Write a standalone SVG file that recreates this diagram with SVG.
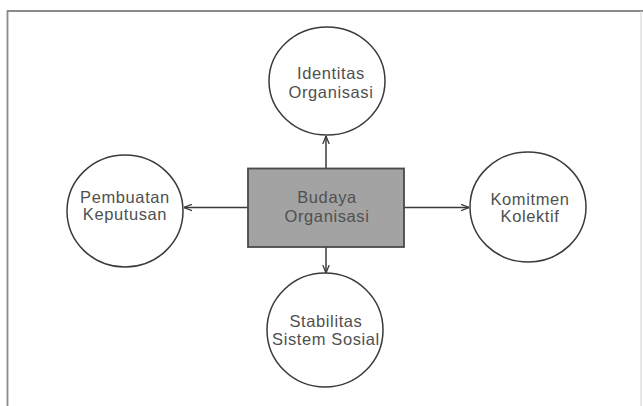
<svg xmlns="http://www.w3.org/2000/svg" width="643" height="406" viewBox="0 0 643 406">
<style>
.node{fill:#fff;stroke:#3a3a3a;stroke-width:1.5}
.box{fill:#a3a3a3;stroke:#4a4a4a;stroke-width:1.8}
.lbl{font-family:"Liberation Sans",Arial,sans-serif;font-size:16.5px;letter-spacing:0.6px;fill:#505050;text-anchor:middle}
.con{stroke:#3a3a3a;stroke-width:1.5;fill:none;marker-end:url(#ah)}
</style>
<defs>
<marker id="ah" viewBox="0 0 10 10" refX="10" refY="5" markerWidth="8" markerHeight="8" markerUnits="userSpaceOnUse" orient="auto">
<path d="M0,1 L10,5 L0,9" fill="none" stroke="#3a3a3a" stroke-width="1.6"/>
</marker>
</defs>
<rect width="643" height="406" fill="#fff"/>
<path d="M7.5,420 V11 H643" fill="none" stroke="#8a8a8a" stroke-width="1.8"/>
<line x1="641" y1="11" x2="641" y2="406" stroke="#d0d0d0" stroke-width="1"/>
<g id="connectors">
<line class="con" x1="326" y1="168" x2="326" y2="136"/>
<line class="con" x1="248" y1="207.5" x2="184" y2="207.5"/>
<line class="con" x1="404" y1="207.5" x2="469" y2="207.5"/>
<line class="con" x1="326" y1="247" x2="326" y2="273"/>
</g>
<g id="identitas">
<ellipse class="node" cx="327" cy="81" rx="58" ry="54"/>
<text class="lbl" x="331" y="79">Identitas</text>
<text class="lbl" x="331" y="98">Organisasi</text>
</g>
<g id="pembuatan">
<ellipse class="node" cx="125" cy="211" rx="58" ry="56"/>
<text class="lbl" x="125" y="203">Pembuatan</text>
<text class="lbl" x="125" y="220">Keputusan</text>
</g>
<g id="budaya">
<rect class="box" x="248" y="168.5" width="156" height="78.5"/>
<text class="lbl" x="327" y="203">Budaya</text>
<text class="lbl" x="327" y="222">Organisasi</text>
</g>
<g id="komitmen">
<ellipse class="node" cx="528" cy="207" rx="58" ry="55"/>
<text class="lbl" x="530" y="205">Komitmen</text>
<text class="lbl" x="530" y="222">Kolektif</text>
</g>
<g id="stabilitas">
<ellipse class="node" cx="325" cy="330" rx="58" ry="57"/>
<text class="lbl" x="326" y="327">Stabilitas</text>
<text class="lbl" x="326" y="345">Sistem Sosial</text>
</g>
</svg>
